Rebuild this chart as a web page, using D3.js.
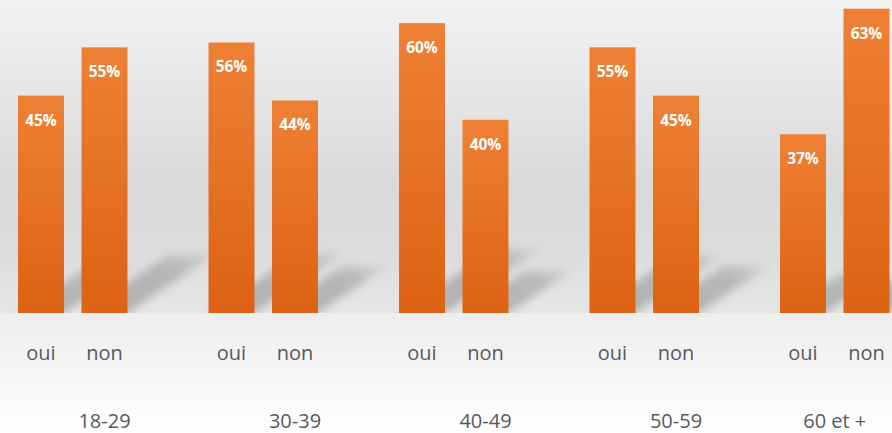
<!DOCTYPE html>
<html>
<head>
<meta charset="utf-8">
<script src="https://cdn.jsdelivr.net/npm/d3@7/dist/d3.min.js"></script>
<style>
  html, body { margin: 0; padding: 0; background: #fff; }
  svg { display: block; }
</style>
</head>
<body>
<script>
// Age groups and answers
const groups = ["18-29", "30-39", "40-49", "50-59", "60 et +"];
const answers = ["oui", "non"];
// Share of answers per age group (%)
const ouiValues = [45, 56, 60, 55, 37];
const nonValues = [55, 44, 40, 45, 63];

const W = 892, H = 433;
const baseY = 313;

// Category slots: each group holds oui, non and an empty spacer (not after the last group)
const slots = [];
groups.forEach((g, gi) => {
  slots.push({ key: g + "|oui", group: g, answer: answers[0], value: ouiValues[gi] });
  slots.push({ key: g + "|non", group: g, answer: answers[1], value: nonValues[gi] });
  if (gi < groups.length - 1) slots.push({ key: g + "|gap", group: g, answer: null, value: null });
});

const x = d3.scaleBand()
  .domain(slots.map(d => d.key))
  .range([9.25, 898.25])
  .paddingInner(0.276)
  .paddingOuter(0.138);

const y = d3.scaleLinear().domain([0, 65]).range([baseY, -1]);

const svg = d3.select("body").append("svg")
  .attr("width", W).attr("height", H);

const defs = svg.append("defs");

const bgTop = defs.append("linearGradient").attr("id", "bgTop")
  .attr("x1", 0).attr("y1", 0).attr("x2", 0).attr("y2", 1);
bgTop.append("stop").attr("offset", 0).attr("stop-color", "#f2f2f2");
bgTop.append("stop").attr("offset", 0.6).attr("stop-color", "#d9d9d9");
bgTop.append("stop").attr("offset", 0.8).attr("stop-color", "#dcdcdc");
bgTop.append("stop").attr("offset", 1).attr("stop-color", "#e6e6e6");

const bgBottom = defs.append("linearGradient").attr("id", "bgBottom")
  .attr("x1", 0).attr("y1", 0).attr("x2", 0).attr("y2", 1);
bgBottom.append("stop").attr("offset", 0).attr("stop-color", "#ededed");
bgBottom.append("stop").attr("offset", 1).attr("stop-color", "#ffffff");

const barGrad = defs.append("linearGradient").attr("id", "barGrad")
  .attr("x1", 0).attr("y1", 0).attr("x2", 0).attr("y2", 1);
barGrad.append("stop").attr("offset", 0).attr("stop-color", "#ee8035");
barGrad.append("stop").attr("offset", 1).attr("stop-color", "#dc6214");

const shGrad = defs.append("linearGradient").attr("id", "shGrad")
  .attr("x1", 0).attr("y1", 1).attr("x2", 1).attr("y2", 0);
shGrad.append("stop").attr("offset", 0).attr("stop-color", "#000").attr("stop-opacity", 0.24);
shGrad.append("stop").attr("offset", 0.7).attr("stop-color", "#000").attr("stop-opacity", 0.18);
shGrad.append("stop").attr("offset", 1).attr("stop-color", "#000").attr("stop-opacity", 0.05);

const blur = defs.append("filter").attr("id", "shBlur")
  .attr("x", "-20%").attr("y", "-20%").attr("width", "140%").attr("height", "140%");
blur.append("feGaussianBlur").attr("stdDeviation", 4);

const clip = defs.append("clipPath").attr("id", "floorClip");
clip.append("rect").attr("x", 0).attr("y", 0).attr("width", W).attr("height", baseY);

// Background
svg.append("rect").attr("x", 0).attr("y", 0).attr("width", W).attr("height", baseY)
  .attr("fill", "url(#bgTop)");
svg.append("rect").attr("x", 0).attr("y", baseY).attr("width", W).attr("height", H - baseY)
  .attr("fill", "url(#bgBottom)");

const bars = slots.filter(d => d.answer !== null);
const bw = x.bandwidth();

// Shadows cast on the floor, skewed toward the upper right
svg.append("g").attr("clip-path", "url(#floorClip)")
  .selectAll("path").data(bars).join("path")
  .attr("d", d => {
    const x0 = x(d.key), x1 = x0 + bw;
    const h = y(0) - y(d.value);
    const dx = 0.33 * h, dy = 0.22 * h;
    return `M${x0},${y(0)}L${x1},${y(0)}L${x1 + dx},${y(0) - dy}L${x0 + dx},${y(0) - dy}Z`;
  })
  .attr("fill", "url(#shGrad)")
  .attr("filter", "url(#shBlur)");

// Bars
svg.append("g").selectAll("rect").data(bars).join("rect")
  .attr("x", d => x(d.key))
  .attr("y", d => y(d.value))
  .attr("width", bw)
  .attr("height", d => y(0) - y(d.value))
  .attr("fill", "url(#barGrad)");

// Value labels
svg.append("g").selectAll("text").data(bars).join("text")
  .attr("x", d => x(d.key) + bw / 2)
  .attr("y", d => y(d.value) + 30)
  .attr("text-anchor", "middle")
  .attr("font-family", "'Open Sans', sans-serif")
  .attr("font-weight", "bold")
  .attr("font-size", 15.5)
  .attr("fill", "#ffffff")
  .text(d => d.value + "%");

// Answer labels
svg.append("g").selectAll("text").data(bars).join("text")
  .attr("x", d => x(d.key) + bw / 2)
  .attr("y", 360)
  .attr("text-anchor", "middle")
  .attr("font-family", "'Open Sans', sans-serif")
  .attr("font-size", 20)
  .attr("fill", "#595959")
  .text(d => d.answer);

// Group labels, centred on the slots of each group
svg.append("g").selectAll("text").data(groups).join("text")
  .attr("x", g => {
    const s = slots.filter(d => d.group === g);
    return d3.mean(s, d => x(d.key) + bw / 2);
  })
  .attr("y", 428)
  .attr("text-anchor", "middle")
  .attr("font-family", "'Open Sans', sans-serif")
  .attr("font-size", 20)
  .attr("fill", "#595959")
  .text(g => g);
</script>
</body>
</html>
